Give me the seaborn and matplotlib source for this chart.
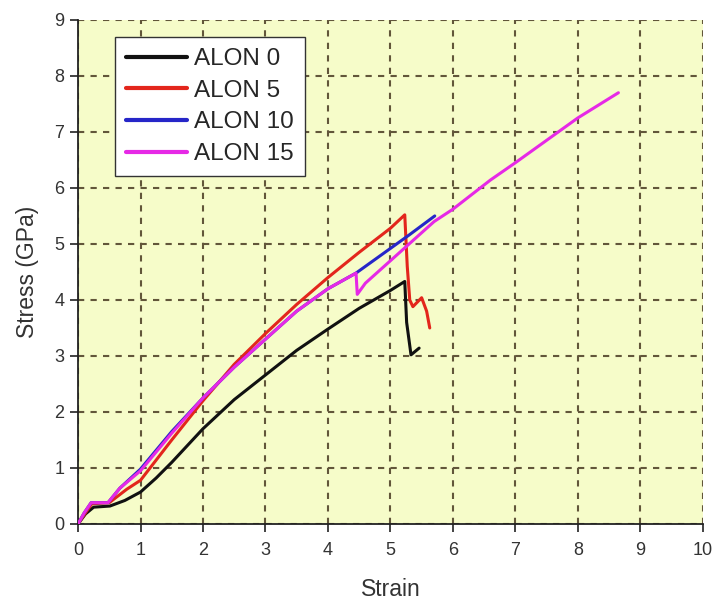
import matplotlib
matplotlib.use("Agg")
import matplotlib.pyplot as plt
import seaborn as sns
import pandas as pd

# ---- data ----
alon0_x = [0.0, 0.12, 0.25, 0.51, 0.75, 1.0, 1.25, 1.5, 2.0, 2.5, 3.0, 3.5, 4.0, 4.5, 5.0, 5.23, 5.26, 5.33, 5.46]
alon0_y = [0.0, 0.18, 0.3, 0.32, 0.42, 0.57, 0.82, 1.1, 1.7, 2.22, 2.66, 3.1, 3.48, 3.85, 4.17, 4.33, 3.6, 3.02, 3.14]

alon5_x = [0.0, 0.12, 0.22, 0.5, 0.78, 1.0, 1.5, 2.0, 2.5, 3.0, 3.5, 4.0, 4.5, 5.0, 5.23, 5.27, 5.31, 5.36, 5.5, 5.58, 5.63]
alon5_y = [0.0, 0.2, 0.36, 0.38, 0.62, 0.78, 1.5, 2.2, 2.85, 3.4, 3.92, 4.4, 4.85, 5.28, 5.52, 4.6, 4.0, 3.88, 4.04, 3.8, 3.5]

alon10_x = [0.0, 0.1, 0.21, 0.48, 0.67, 1.0, 1.5, 2.0, 2.5, 3.0, 3.5, 4.0, 4.45, 5.0, 5.3, 5.71]
alon10_y = [0.0, 0.2, 0.38, 0.38, 0.64, 0.98, 1.65, 2.25, 2.8, 3.3, 3.8, 4.2, 4.48, 4.92, 5.16, 5.5]

alon15_x = [0.0, 0.1, 0.21, 0.48, 0.67, 1.0, 1.5, 2.0, 2.5, 3.0, 3.5, 4.0, 4.45, 4.47, 4.6, 5.0, 5.3, 5.7, 6.0, 6.6, 7.0, 7.5, 8.0, 8.65]
alon15_y = [0.0, 0.2, 0.38, 0.38, 0.64, 0.95, 1.62, 2.25, 2.8, 3.3, 3.8, 4.2, 4.48, 4.1, 4.3, 4.7, 5.0, 5.4, 5.62, 6.14, 6.45, 6.85, 7.25, 7.7]

series_names = ["ALON 0", "ALON 5", "ALON 10", "ALON 15"]
series_colors = ["#111111", "#e3261c", "#2626c8", "#e629e6"]
x_ticks = list(range(0, 11))
y_ticks = list(range(0, 10))

frames = []
for name, xs, ys in zip(series_names,
                        [alon0_x, alon5_x, alon10_x, alon15_x],
                        [alon0_y, alon5_y, alon10_y, alon15_y]):
    frames.append(pd.DataFrame({"Strain": xs, "Stress": ys, "Series": name}))
df = pd.concat(frames, ignore_index=True)

sns.set_theme(style="ticks")
plt.rcParams["font.family"] = ["Liberation Sans", "DejaVu Sans"]

fig = plt.figure(figsize=(7.12, 6.04), dpi=100)
ax = fig.add_axes([0.1096, 0.1325, 0.8774, 0.8345])
ax.set_facecolor("#f6fcc9")

sns.lineplot(data=df, x="Strain", y="Stress", hue="Series", hue_order=series_names,
             palette=dict(zip(series_names, series_colors)), sort=False,
             estimator=None, linewidth=2.2, ax=ax, zorder=3)

ax.set_xlim(0, 10)
ax.set_ylim(0, 9)
ax.set_xticks(x_ticks)
ax.set_yticks(y_ticks)
ax.tick_params(labelsize=13, length=6, width=1.2, color="#222222", labelcolor="#333333", direction="out")
ax.tick_params(axis="x", pad=7)
ax.tick_params(axis="y", pad=4)
ax.grid(True, linestyle=(0, (3, 3)), color="#62563a", linewidth=1.5, zorder=1)
ax.set_axisbelow(True)
for s in ["top", "right"]:
    ax.spines[s].set_visible(False)
for s in ["left", "bottom"]:
    ax.spines[s].set_color("#222222")
    ax.spines[s].set_linewidth(1.3)

ax.set_xlabel("Strain", fontsize=16.5, color="#333333", labelpad=14)
ax.set_ylabel("Stress (GPa)", fontsize=16.5, color="#333333", labelpad=11)

leg = ax.legend(loc="upper left", bbox_to_anchor=(0.059, 0.966), fontsize=17.5,
                frameon=True, fancybox=False, edgecolor="#333333", framealpha=1,
                handlelength=2.5, borderpad=0.45, labelspacing=0.4, handletextpad=0.3,
                borderaxespad=0)
leg.get_frame().set_linewidth(1.0)
for line in leg.get_lines():
    line.set_linewidth(3.0)

fig.savefig("out.png", dpi=100)
